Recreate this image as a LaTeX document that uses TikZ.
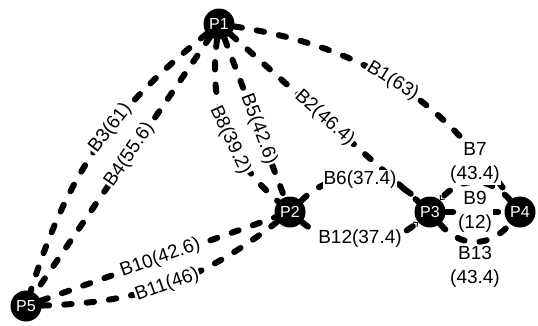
\documentclass[tikz,border=0pt]{standalone}
\usepackage{fontspec}
\setmainfont{Liberation Sans}
\usetikzlibrary{arrows.meta}
\begin{document}
\begin{tikzpicture}[x=1pt,y=1pt,
  pnode/.style={circle, fill=black, minimum size=31pt, inner sep=0pt, text=white, font=\fontsize{16}{18}\selectfont},
  edge/.style={line width=6pt, line cap=round, dash pattern=on 7.5pt off 15pt},
  lab/.style={fill=white, inner sep=1pt, font=\fontsize{19}{24.5}\selectfont},
  tipend/.style={-{Straight Barb[length=3pt,width=6pt,line width=1pt]}}
]
\useasboundingbox (0,0) rectangle (538,325);
\node[pnode] (P1) at (219,301) {P1};
\node[pnode] (P2) at (290,113) {P2};
\node[pnode] (P3) at (430,113) {P3};
\node[pnode] (P4) at (520,113) {P4};
\node[pnode] (P5) at (26,19) {P5};

\draw[edge] (P1) to[bend left=23] node[lab, sloped, pos=0.5] {B1(63)} (P4);
\draw[edge] (P1) -- node[lab, sloped, pos=0.5] {B2(46.4)} (P3);
\draw[edge] (P1) to[bend right=17] node[lab, sloped, pos=0.42] {B3(61)} (P5);
\draw[edge] (P1) -- node[lab, sloped, pos=0.46] {B4(55.6)} (P5);
\draw[edge] (P1) -- node[lab, sloped, pos=0.57] {B5(42.6)} (P2);
\draw[edge] (P1) to[bend right=28] node[lab, sloped, pos=0.57] {B8(39.2)} (P2);
\draw[edge] (P2) to[out=45,in=135] node[lab, pos=0.5, yshift=-3pt] {B6(37.4)} (P3);
\draw[edge, tipend] (P2) to[out=-40,in=-140] node[lab, pos=0.5, yshift=5pt] {B12(37.4)} (P3);
\draw[edge, tipend] (P4) to[out=130,in=50,looseness=1.15] node[lab, align=center, pos=0.5, yshift=19pt] {B7\\(43.4)} (P3);
\draw[edge] (P3) -- node[lab, align=center] {B9\\(12)} (P4);
\draw[edge] (P3) to[out=-50,in=-130,looseness=1.15] node[lab, align=center, pos=0.5, yshift=-25pt] {B13\\(43.4)} (P4);
\draw[edge] (P5) -- node[lab, sloped, pos=0.51] {B10(42.6)} (P2);
\draw[edge] (P5) to[bend right=18] node[lab, sloped, pos=0.5] {B11(46)} (P2);
\end{tikzpicture}
\end{document}
